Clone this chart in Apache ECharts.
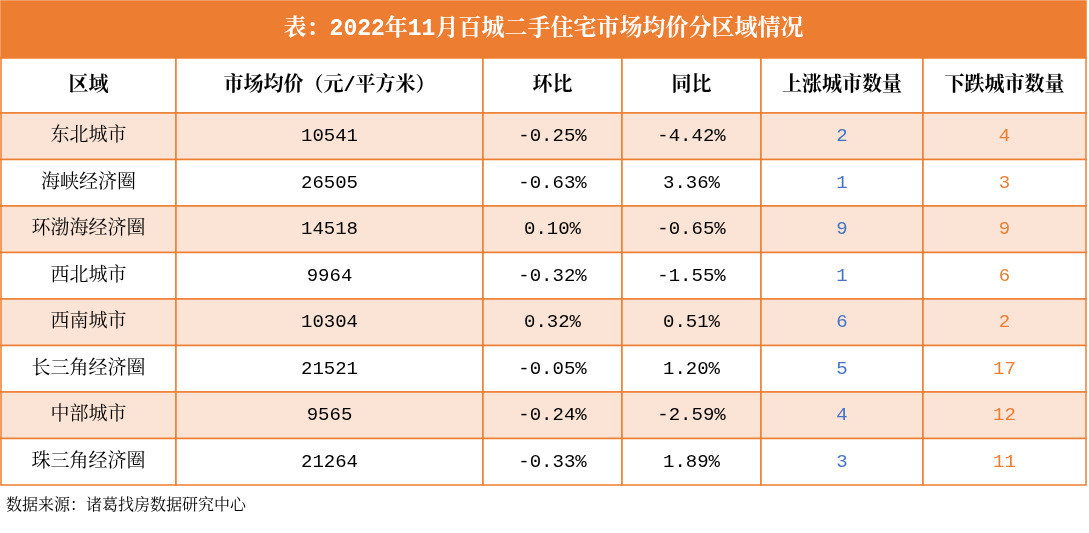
<!DOCTYPE html>
<html><head><meta charset="utf-8">
<script src="https://cdn.jsdelivr.net/npm/echarts@6/dist/echarts.min.js"></script>
<style>html,body{margin:0;padding:0;background:#fff}#c{width:1089px;height:533px}</style>
</head><body><div id="c"></div>
<script>
const title = '表：2022年11月百城二手住宅市场均价分区域情况';
const headers = ['区域','市场均价（元/平方米）','环比','同比','上涨城市数量','下跌城市数量'];
const regions = ['东北城市','海峡经济圈','环渤海经济圈','西北城市','西南城市','长三角经济圈','中部城市','珠三角经济圈'];
const prices = [10541,26505,14518,9964,10304,21521,9565,21264];
const mom = ['-0.25%','-0.63%','0.10%','-0.32%','0.32%','-0.05%','-0.24%','-0.33%'];
const yoy = ['-4.42%','3.36%','-0.65%','-1.55%','0.51%','1.20%','-2.59%','1.89%'];
const upCount = [2,1,9,1,6,5,4,3];
const downCount = [4,3,9,6,2,17,12,11];
const source = '数据来源：诸葛找房数据研究中心';

const colEdges = [0,175,482,621,760,922,1085];
const rowEdges = [0,57,112];
for (let i=0;i<regions.length;i++) rowEdges.push(112+46.5*(i+1));
const ORANGE='#ED7D31', BLUE='#4472C4';
const cells = [];
cells.push([0,1085,0,57,title,'title']);
headers.forEach((h,j)=>cells.push([colEdges[j],colEdges[j+1],57,112,h,'head']));
regions.forEach((r,i)=>{
  const row=[r,String(prices[i]),mom[i],yoy[i],String(upCount[i]),String(downCount[i])];
  row.forEach((v,j)=>cells.push([colEdges[j],colEdges[j+1],rowEdges[i+2],rowEdges[i+3],v,'d'+(i%2)+'_'+j]));
});
const font='"Liberation Mono","Noto Serif CJK SC","Noto Sans CJK SC",serif';
const chart=echarts.init(document.getElementById('c'));
chart.setOption({
  animation:false,
  grid:{left:1,right:3,top:1,bottom:48},
  xAxis:{type:'value',min:0,max:1085,show:false},
  yAxis:{type:'value',min:0,max:484,inverse:true,show:false},
  graphic:[{type:'text',left:6,top:498,style:{text:source,font:'16px '+font,fill:'#000'}}],
  series:[{type:'custom',data:cells,
    renderItem:(p,api)=>{
      const d=cells[p.dataIndex];
      const a=api.coord([d[0],d[2]]),b=api.coord([d[1],d[3]]);
      const k=d[5];
      let fill='#fff',tc='#000',fw='normal',fs=19;
      if(k==='title'){fill=ORANGE;tc='#fff';fs=23;fw='bold';}
      else if(k==='head'){fw='bold';fs=20;}
      else{
        if(k.startsWith('d0'))fill='#FBE4D5';
        if(k.endsWith('_4'))tc=BLUE;
        if(k.endsWith('_5'))tc=ORANGE;
      }
      return {type:'group',children:[
        {type:'rect',shape:{x:a[0],y:a[1],width:b[0]-a[0],height:b[1]-a[1]},
         style:{fill:fill,stroke:ORANGE,lineWidth:1.5}},
        {type:'text',x:(a[0]+b[0])/2,y:(a[1]+b[1])/2,
         style:{text:d[4],fill:tc,align:'center',verticalAlign:'middle',
           font:fw+' '+fs+'px '+font}}
      ]};
    }}]
});
</script></body></html>
